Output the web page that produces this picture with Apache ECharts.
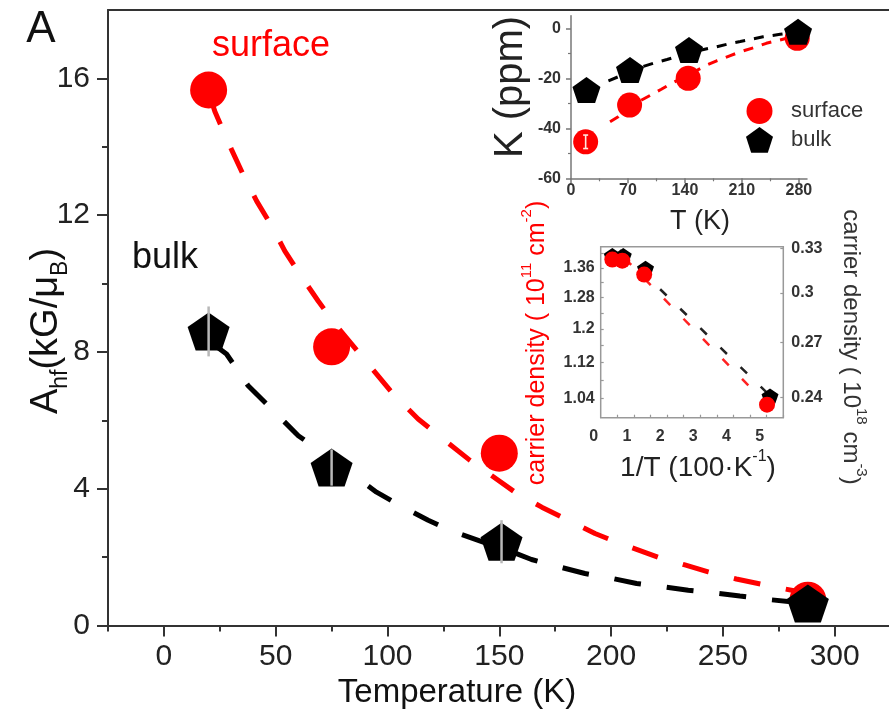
<!DOCTYPE html>
<html><head><meta charset="utf-8">
<script src="https://cdn.jsdelivr.net/npm/echarts@6/dist/echarts.min.js"></script>
<style>html,body{margin:0;padding:0;background:#fff}#c{width:889px;height:714px}</style>
</head><body><div id="c"></div>
<script>
const FONT = '"Liberation Sans", Arial, Helvetica, sans-serif';
const PENT = 'path://M50,0 L97.6,34.5 L79.4,90.5 L20.6,90.5 L2.4,34.5 Z';

// ---- main panel: hyperfine coupling vs temperature ----
const mainT = [20, 75, 150, 288];
const surfaceA = [15.66, 8.15, 5.04, 0.74];
const bulkT = [20, 75, 151, 288];
const bulkA = [8.6, 4.62, 2.45, 0.64];
const bulkAErr = [0.73, 0.53, 0.63, 0];
const surfaceFitT = [21, 22.8, 30.3, 35.5, 41.5, 48.2, 54.1, 60.8, 69, 77.2, 92.1, 102.5, 113.7, 125.7, 136.9, 146.5, 157, 169, 180.8, 192.8, 204, 221, 233, 243.4, 256, 270, 283, 288];
const surfaceFitA = [15.4, 15.03, 13.91, 13.18, 12.41, 11.68, 10.95, 10.27, 9.49, 8.76, 7.59, 6.77, 6.04, 5.41, 4.83, 4.39, 3.9, 3.46, 3.08, 2.69, 2.40, 2.0, 1.77, 1.57, 1.36, 1.17, 1.0, 0.95];
const bulkFitT = [22, 28, 37.7, 48.2, 60.1, 76, 95.1, 107, 118.2, 130, 157.7, 164.4, 177, 188.3, 200.2, 211.4, 223.3, 234.5, 246.4, 257.6, 270.3, 281.4];
const bulkFitA = [8.23, 7.94, 7.01, 6.33, 5.55, 4.82, 3.90, 3.46, 3.08, 2.73, 2.1, 1.93, 1.71, 1.52, 1.38, 1.23, 1.13, 1.03, 0.95, 0.86, 0.76, 0.69];
const mainXTicks = [0, 50, 100, 150, 200, 250, 300];
const mainXMinor = [-25, 25, 75, 125, 175, 225, 275, 325];
const mainYTicks = [0, 4, 8, 12, 16];
const mainYMinor = [2, 6, 10, 14];

// ---- inset 1: Knight shift vs T ----
const kSurfT = [18, 72, 144, 278];
const kSurf = [-45.4, -30.7, -20, -4];
const kSurfErr = [2.7, 0, 0, 0];
const kBulkT = [19, 72.5, 145, 279];
const kBulk = [-24.7, -16.7, -8.7, -1.4];
const kSurfFitT = [48, 58, 72, 85, 111, 122, 145, 167, 179, 195, 208, 228, 240, 265, 278];
const kSurfFit = [-37.4, -35.4, -31.5, -29, -24.4, -22.3, -18.5, -14.7, -13, -11, -9.4, -7.4, -6, -4, -3];
const kBulkFitT = [46, 58, 72.5, 105, 118, 145, 167, 179, 195, 208, 224, 236, 257, 279];
const kBulkFit = [-21, -19.4, -16.9, -13.6, -12.5, -9.8, -8.2, -7.4, -6.1, -5.3, -4.2, -3.4, -2.4, -1.4];
const kXTicks = [0, 70, 140, 210, 280];
const kXMinor = [35, 105, 175, 245];
const kYTicks = [-60, -40, -20, 0];
const kYMinor = [-50, -30, -10];

// ---- inset 2: carrier density vs 1/T ----
const nSurfX = [0.35, 0.65, 1.31, 5.01];
const nSurf = [1.383, 1.380, 1.341, 1.027];
const nBulkX = [0.35, 0.68, 1.35, 5.1];
const nBulk = [0.3248, 0.3248, 0.3162, 0.2409];
const nSurfFitX = [0.73, 5.01];
const nSurfFit = [1.386, 1.027];
const nBulkFitX = [0.58, 5.1];
const nBulkFit = [0.3285, 0.241];
const nXTicks = [0, 1, 2, 3, 4, 5];
const nXMinor = [0.5, 1, 1.5, 2, 2.5, 3, 3.5, 4, 4.5, 5, 5.5];
const nLeftTicks = [1.04, 1.12, 1.2, 1.28, 1.36];
const nLeftMinor = [1.04, 1.08, 1.12, 1.16, 1.2, 1.24, 1.28, 1.32, 1.36, 1.40];
const nRightTicks = [0.24, 0.27, 0.3, 0.33];

const zip = (a, b) => a.map((v, i) => [v, b[i]]);
const zip3 = (a, b, c) => a.map((v, i) => [v, b[i], c[i]]);

function errRender(color, width, cap) {
  return function (params, api) {
    const x = api.value(0), y = api.value(1), e = api.value(2);
    if (!e) return null;
    const p1 = api.coord([x, y + e]), p2 = api.coord([x, y - e]);
    const ch = [{ type: 'line', shape: { x1: p1[0], y1: p1[1], x2: p2[0], y2: p2[1] }, style: { stroke: color, lineWidth: width } }];
    if (cap) {
      ch.push({ type: 'line', shape: { x1: p1[0] - cap, y1: p1[1], x2: p1[0] + cap, y2: p1[1] }, style: { stroke: color, lineWidth: width } });
      ch.push({ type: 'line', shape: { x1: p2[0] - cap, y1: p2[1], x2: p2[0] + cap, y2: p2[1] }, style: { stroke: color, lineWidth: width } });
    }
    return { type: 'group', children: ch };
  };
}

const axisDark = { onZero: false, lineStyle: { color: '#333', width: 2 } };
const noLine = { show: false, onZero: false };
const inGray = '#777';

const chart = echarts.init(document.getElementById('c'), null, { renderer: 'canvas' });
chart.setOption({
  animation: false,
  backgroundColor: '#fff',
  textStyle: { fontFamily: FONT },
  grid: [
    { left: 108, top: 10, width: 782.6, height: 615.5, outerBoundsMode: 'none' },
    { left: 571, top: 15.8, width: 236, height: 162.5, outerBoundsMode: 'none' },
    { left: 600.7, top: 246.7, width: 182.6, height: 171, show: true, borderColor: '#999', borderWidth: 1.5, backgroundColor: '#fff', outerBoundsMode: 'none' }
  ],
  xAxis: [
    { gridIndex: 0, type: 'value', position: 'bottom', min: -25, max: 325, axisLine: axisDark, splitLine: { show: false },
      axisTick: { customValues: mainXTicks, length: 11, lineStyle: { color: '#333', width: 2 } },
      axisLabel: { customValues: mainXTicks, fontSize: 30, color: '#222', margin: 16, fontFamily: FONT } },
    { gridIndex: 0, type: 'value', position: 'bottom', min: -25, max: 325, axisLine: noLine, splitLine: { show: false },
      axisTick: { customValues: mainXMinor, length: 6, lineStyle: { color: '#333', width: 2 } }, axisLabel: { show: false } },
    { gridIndex: 0, type: 'value', position: 'top', min: -25, max: 325, axisLine: axisDark, splitLine: { show: false },
      axisTick: { show: false }, axisLabel: { show: false } },
    { gridIndex: 1, type: 'value', position: 'bottom', min: 0, max: 290, axisLine: { onZero: false, lineStyle: { color: inGray, width: 1.5 } }, splitLine: { show: false },
      axisTick: { customValues: kXTicks, length: 5, lineStyle: { color: inGray, width: 1.5 } },
      axisLabel: { customValues: kXTicks, fontSize: 16, fontWeight: 'bold', color: '#333', margin: 4, fontFamily: FONT } },
    { gridIndex: 1, type: 'value', position: 'bottom', min: 0, max: 290, axisLine: noLine, splitLine: { show: false },
      axisTick: { customValues: kXMinor, length: 3, lineStyle: { color: inGray, width: 1.2 } }, axisLabel: { show: false } },
    { gridIndex: 2, type: 'value', position: 'bottom', min: 0, max: 5.5, axisLine: noLine, splitLine: { show: false },
      axisTick: { customValues: nXMinor, inside: true, length: 3, lineStyle: { color: '#999', width: 1.2 } },
      axisLabel: { customValues: nXTicks, fontSize: 16, fontWeight: 'bold', color: '#333', margin: 11, padding: [0, 14, 0, 0], fontFamily: FONT } }
  ],
  yAxis: [
    { gridIndex: 0, type: 'value', position: 'left', min: 0, max: 18, axisLine: axisDark, splitLine: { show: false },
      axisTick: { customValues: mainYTicks, length: 11, lineStyle: { color: '#333', width: 2 } },
      axisLabel: { customValues: mainYTicks, fontSize: 30, color: '#222', margin: 18, fontFamily: FONT } },
    { gridIndex: 0, type: 'value', position: 'left', min: 0, max: 18, axisLine: noLine, splitLine: { show: false },
      axisTick: { customValues: mainYMinor, length: 6, lineStyle: { color: '#333', width: 2 } }, axisLabel: { show: false } },
    { gridIndex: 1, type: 'value', position: 'left', min: -60, max: 5, axisLine: { onZero: false, lineStyle: { color: inGray, width: 1.5 } }, splitLine: { show: false },
      axisTick: { customValues: kYTicks, length: 5, lineStyle: { color: inGray, width: 1.5 } },
      axisLabel: { customValues: kYTicks, fontSize: 16, fontWeight: 'bold', color: '#333', margin: 10, fontFamily: FONT } },
    { gridIndex: 1, type: 'value', position: 'left', min: -60, max: 5, axisLine: noLine, splitLine: { show: false },
      axisTick: { customValues: kYMinor, length: 3, lineStyle: { color: inGray, width: 1.2 } }, axisLabel: { show: false } },
    { gridIndex: 2, type: 'log', logBase: 10, position: 'left', min: 1.0, max: 1.42, axisLine: noLine, splitLine: { show: false },
      axisTick: { customValues: nLeftMinor, inside: true, length: 3, lineStyle: { color: '#999', width: 1.2 } },
      axisLabel: { customValues: nLeftTicks, fontSize: 16, fontWeight: 'bold', color: '#333', margin: 6, fontFamily: FONT } },
    { gridIndex: 2, type: 'log', logBase: 10, position: 'right', min: 0.23, max: 0.331, axisLine: noLine, splitLine: { show: false },
      axisTick: { customValues: nRightTicks, inside: true, length: 3, lineStyle: { color: '#999', width: 1.2 } },
      axisLabel: { customValues: nRightTicks, fontSize: 16, fontWeight: 'bold', color: '#333', margin: 8, fontFamily: FONT } }
  ],
  legend: {
    data: [{ name: 'surface', icon: 'circle' }, { name: 'bulk', icon: PENT }],
    left: 741, top: 93, orient: 'vertical', itemWidth: 27, itemHeight: 26, itemGap: 3,
    selectedMode: false,
    textStyle: { fontSize: 22, color: '#333', fontFamily: FONT, padding: [0, 0, 0, 13] }
  },
  series: [
    // main
    { name: 'surfaceFitMain', type: 'line', xAxisIndex: 0, yAxisIndex: 0, data: zip(surfaceFitT, surfaceFitA),
      showSymbol: false, symbol: 'none', smooth: false, z: 2, lineStyle: { color: '#f00', width: 5, type: [27, 26] } },
    { name: 'surfaceMain', type: 'scatter', xAxisIndex: 0, yAxisIndex: 0, data: zip(mainT, surfaceA),
      symbol: 'circle', symbolSize: 37, z: 3, itemStyle: { color: '#f00', opacity: 1 } },
    { name: 'bulkFitMain', type: 'line', xAxisIndex: 0, yAxisIndex: 0, data: zip(bulkFitT, bulkFitA),
      showSymbol: false, symbol: 'none', smooth: false, z: 4, lineStyle: { color: '#000', width: 5, type: [27, 26] } },
    { name: 'bulkMain', type: 'scatter', xAxisIndex: 0, yAxisIndex: 0, data: zip(bulkT, bulkA),
      symbol: PENT, symbolSize: [42, 38], z: 5, itemStyle: { color: '#000', opacity: 1 } },
    { name: 'bulkErrMain', type: 'custom', xAxisIndex: 0, yAxisIndex: 0, data: zip3(bulkT, bulkA, bulkAErr),
      encode: { x: 0, y: 1 }, z: 6, renderItem: errRender('#b8b8b8', 2.5, 0) },
    // inset 1
    { name: 'kSurfFit', type: 'line', xAxisIndex: 3, yAxisIndex: 2, data: zip(kSurfFitT, kSurfFit),
      showSymbol: false, symbol: 'none', z: 2, lineStyle: { color: '#f00', width: 3, type: [10, 9] } },
    { name: 'kBulkFit', type: 'line', xAxisIndex: 3, yAxisIndex: 2, data: zip(kBulkFitT, kBulkFit),
      showSymbol: false, symbol: 'none', z: 2, lineStyle: { color: '#000', width: 3, type: [10, 9] } },
    { name: 'surface', type: 'scatter', xAxisIndex: 3, yAxisIndex: 2, data: zip(kSurfT, kSurf),
      symbol: 'circle', symbolSize: 25, z: 3, itemStyle: { color: '#f00', opacity: 1 } },
    { name: 'kSurfErr', type: 'custom', xAxisIndex: 3, yAxisIndex: 2, data: zip3(kSurfT, kSurf, kSurfErr),
      encode: { x: 0, y: 1 }, z: 4, renderItem: errRender('#ffe8e0', 1.6, 2.5) },
    { name: 'bulk', type: 'scatter', xAxisIndex: 3, yAxisIndex: 2, data: zip(kBulkT, kBulk),
      symbol: PENT, symbolSize: [28, 26], z: 5, itemStyle: { color: '#000', opacity: 1 } },
    // inset 2
    { name: 'nBulkFit', type: 'line', xAxisIndex: 5, yAxisIndex: 5, data: zip(nBulkFitX, nBulkFit),
      showSymbol: false, symbol: 'none', z: 2, lineStyle: { color: '#222', width: 2.5, type: [9, 19] } },
    { name: 'nSurfFit', type: 'line', xAxisIndex: 5, yAxisIndex: 4, data: zip(nSurfFitX, nSurfFit),
      showSymbol: false, symbol: 'none', z: 2, lineStyle: { color: '#f22', width: 2.5, type: [9, 19] } },
    { name: 'nBulk', type: 'scatter', xAxisIndex: 5, yAxisIndex: 5, data: zip(nBulkX, nBulk),
      symbol: PENT, symbolSize: [17, 15], z: 3, itemStyle: { color: '#000', opacity: 1 } },
    { name: 'nSurf', type: 'scatter', xAxisIndex: 5, yAxisIndex: 4, data: zip(nSurfX, nSurf),
      symbol: 'circle', symbolSize: 16, z: 4, itemStyle: { color: '#f00', opacity: 1 } }
  ],
  graphic: [
    { type: 'text', x: 41, y: 30, style: { text: 'A', fontSize: 44, fontFamily: FONT, fill: '#111', align: 'center', verticalAlign: 'middle', textAlign: 'center', textVerticalAlign: 'middle' } },
    { type: 'text', x: 212, y: 46, style: { text: 'surface', fontSize: 36, fontFamily: FONT, fill: '#f00', align: 'left', verticalAlign: 'middle', textAlign: 'left', textVerticalAlign: 'middle' } },
    { type: 'text', x: 132, y: 258, style: { text: 'bulk', fontSize: 36, fontFamily: FONT, fill: '#111', align: 'left', verticalAlign: 'middle', textAlign: 'left', textVerticalAlign: 'middle' } },
    { type: 'text', x: 47, y: 331, rotation: Math.PI / 2,
      style: { text: '{m|A}{s|hf}{m|(kG/μ}{s|B}{m|)}', fill: '#111', align: 'center', verticalAlign: 'middle', textAlign: 'center', textVerticalAlign: 'middle',
        rich: { m: { fontSize: 38, fontFamily: FONT, fill: '#111', color: '#111', lineHeight: 50, verticalAlign: 'middle' },
                s: { fontSize: 23, fontFamily: FONT, fill: '#111', color: '#111', lineHeight: 50, verticalAlign: 'bottom' } } } },
    { type: 'text', x: 457, y: 693, style: { text: 'Temperature (K)', fontSize: 33, fontFamily: FONT, fill: '#111', align: 'center', verticalAlign: 'middle', textAlign: 'center', textVerticalAlign: 'middle' } },
    { type: 'text', x: 511, y: 87, rotation: Math.PI / 2, style: { text: 'K (ppm)', fontSize: 40, fontFamily: FONT, fill: '#222', align: 'center', verticalAlign: 'middle', textAlign: 'center', textVerticalAlign: 'middle' } },
    { type: 'text', x: 700, y: 222, style: { text: 'T (K)', fontSize: 27, fontFamily: FONT, fill: '#222', align: 'center', verticalAlign: 'middle', textAlign: 'center', textVerticalAlign: 'middle' } },
    { type: 'text', x: 537, y: 343, rotation: Math.PI / 2,
      style: { text: '{m|carrier density ( 10}{p|11}{m| cm}{p|-2}{m|)}', fill: '#f00', align: 'center', verticalAlign: 'middle', textAlign: 'center', textVerticalAlign: 'middle',
        rich: { m: { fontSize: 25, fontFamily: FONT, fill: '#f00', color: '#f00', lineHeight: 36, verticalAlign: 'middle' },
                p: { fontSize: 15, fontFamily: FONT, fill: '#f00', color: '#f00', lineHeight: 36, verticalAlign: 'top' } } } },
    { type: 'text', x: 851, y: 347, rotation: -Math.PI / 2,
      style: { text: '{m|carrier density ( 10}{p|18}{m| cm}{p|-3}{m|)}', fill: '#333', align: 'center', verticalAlign: 'middle', textAlign: 'center', textVerticalAlign: 'middle',
        rich: { m: { fontSize: 24, fontFamily: FONT, fill: '#333', color: '#333', lineHeight: 35, verticalAlign: 'middle' },
                p: { fontSize: 15, fontFamily: FONT, fill: '#333', color: '#333', lineHeight: 35, verticalAlign: 'top' } } } },
    { type: 'text', x: 698, y: 468,
      style: { text: '{m|1/T (100·K}{p|-1}{m|)}', fill: '#222', align: 'center', verticalAlign: 'middle', textAlign: 'center', textVerticalAlign: 'middle',
        rich: { m: { fontSize: 28, fontFamily: FONT, fill: '#222', color: '#222', lineHeight: 38, verticalAlign: 'middle' },
                p: { fontSize: 16, fontFamily: FONT, fill: '#222', color: '#222', lineHeight: 38, verticalAlign: 'top' } } } }
  ]
});
</script>
</body></html>
